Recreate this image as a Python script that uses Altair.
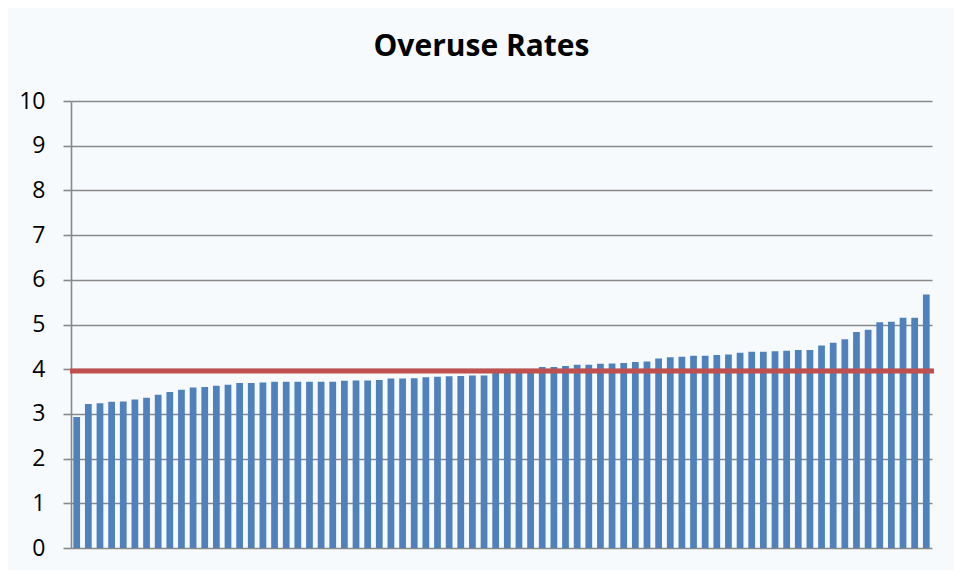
import altair as alt
import pandas as pd

rates = [
    2.93, 3.22, 3.24, 3.27, 3.28, 3.32, 3.36, 3.43, 3.49, 3.54,
    3.59, 3.60, 3.63, 3.65, 3.69, 3.69, 3.70, 3.72, 3.72, 3.72,
    3.72, 3.72, 3.72, 3.74, 3.75, 3.75, 3.76, 3.79, 3.79, 3.80,
    3.82, 3.83, 3.84, 3.85, 3.86, 3.86, 3.95, 3.96, 3.97, 3.98,
    4.05, 4.05, 4.07, 4.10, 4.10, 4.12, 4.13, 4.14, 4.16, 4.17,
    4.24, 4.27, 4.28, 4.30, 4.30, 4.32, 4.33, 4.37, 4.39, 4.39,
    4.40, 4.41, 4.43, 4.43, 4.53, 4.59, 4.67, 4.83, 4.88, 5.05,
    5.06, 5.15, 5.15, 5.67,
]
units = list(range(1, len(rates) + 1))
threshold = [3.96]
y_ticks = list(range(0, 11))

df = pd.DataFrame({"unit": units, "rate": rates})
df_rule = pd.DataFrame({"t": threshold})

GRID = "#888888"
FONT = "Open Sans"

bars = alt.Chart(df).mark_bar(color="#4F81BD").encode(
    x=alt.X("unit:O", axis=None,
            scale=alt.Scale(paddingInner=0.42, paddingOuter=0.2)),
    y=alt.Y("rate:Q",
            scale=alt.Scale(domain=[0, 10], nice=False),
            axis=alt.Axis(values=y_ticks, title=None, grid=True,
                          gridColor=GRID, gridWidth=1.6,
                          domainColor=GRID, domainWidth=1.6,
                          tickColor=GRID, tickWidth=1.6, tickSize=8,
                          labelFont=FONT, labelFontSize=23,
                          labelColor="#000000", labelPadding=18)),
)

rule = alt.Chart(df_rule).mark_rule(color="#C0504D", strokeWidth=5).encode(
    y="t:Q",
    x=alt.value(-1),
    x2=alt.value(863),
)

chart = alt.layer(bars, rule).properties(
    width=861,
    height=447,
    title=alt.TitleParams("Overuse Rates", font=FONT, fontSize=30,
                          fontWeight="bold", color="#000000",
                          anchor="middle", frame="group",
                          baseline="alphabetic", offset=4, dx=-20),
    autosize=alt.AutoSizeParams(type="none"),
    padding={"left": 63, "top": 93, "right": 22, "bottom": 22},
    background="#f7fafd",
).configure_view(stroke=None)

chart.save("out.html", embed_options={"renderer": "svg", "actions": False})
